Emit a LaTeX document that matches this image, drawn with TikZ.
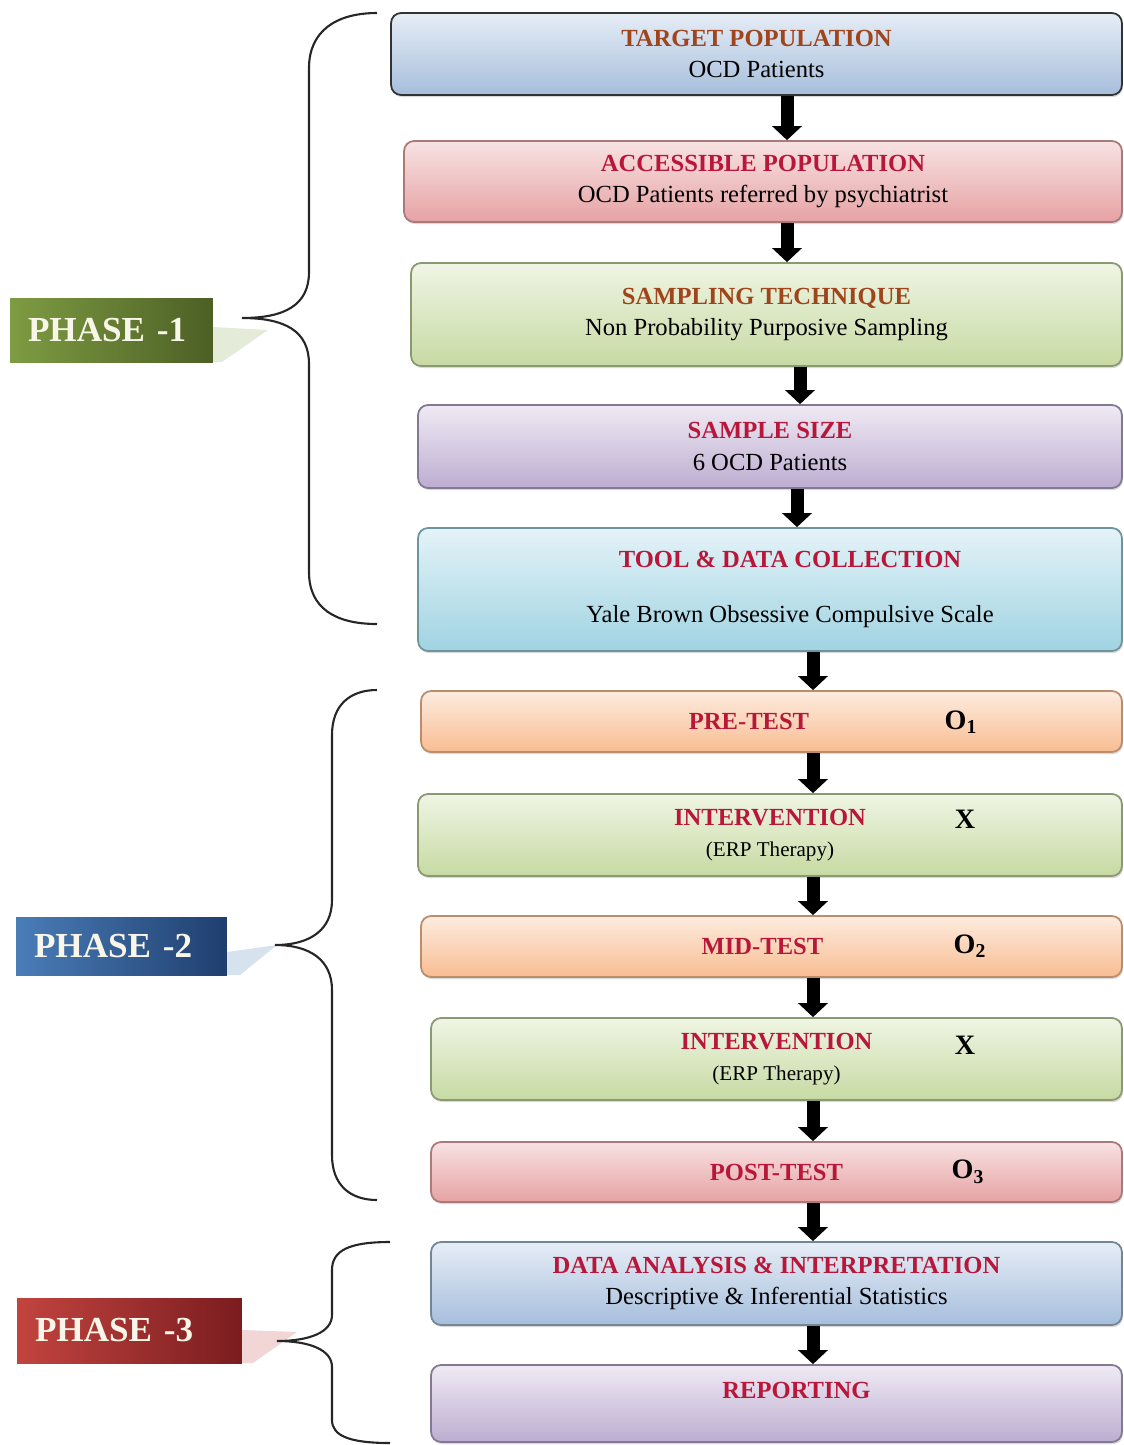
\documentclass[tikz,border=0pt]{standalone}
\usepackage{fontspec}
\setmainfont{Liberation Serif}
\usepackage{xcolor}
\usepackage{tikz}
\usetikzlibrary{arrows.meta, positioning, calc, shadows}

\definecolor{blueA}{HTML}{E6EDF6}
\definecolor{blueB}{HTML}{A6BEDC}
\definecolor{redA}{HTML}{F8E2E2}
\definecolor{redB}{HTML}{E6A2A4}
\definecolor{greenA}{HTML}{EFF5E4}
\definecolor{greenB}{HTML}{C7DAA3}
\definecolor{purpleA}{HTML}{EFEAF4}
\definecolor{purpleB}{HTML}{BDADD1}
\definecolor{cyanA}{HTML}{E4F3F8}
\definecolor{cyanB}{HTML}{A0D3E2}
\definecolor{orangeA}{HTML}{FDECDF}
\definecolor{orangeB}{HTML}{F8BD92}
\definecolor{titlered}{HTML}{B8173A}
\definecolor{titlebrown}{HTML}{A0441C}
\definecolor{phasetext}{HTML}{F8F6E8}
\definecolor{ponegreenA}{HTML}{7E9C42}
\definecolor{ponegreenB}{HTML}{4C5F25}
\definecolor{ptwoblueA}{HTML}{4A7DB8}
\definecolor{ptwoblueB}{HTML}{1F3E6E}
\definecolor{pthreeredA}{HTML}{C2443F}
\definecolor{pthreeredB}{HTML}{7A1C1F}

\newcommand{\hdr}[1]{\textcolor{titlered}{\textbf{#1}}}
\newcommand{\hdrbrown}[1]{\textcolor{titlebrown}{\textbf{#1}}}

\begin{document}
\begin{tikzpicture}[
    x=0.02cm, y=-0.02cm,
    stage/.style={rectangle, rounded corners=0.2cm, align=center, line width=1pt, inner sep=2pt,
        font=\fontsize{14}{18}\selectfont, drop shadow={opacity=0.3, shadow xshift=0.6pt, shadow yshift=-1.2pt}},
    bluebox/.style={stage, top color=blueA, bottom color=blueB, draw=black!80},
    redbox/.style={stage, top color=redA, bottom color=redB, draw=redB!75!black},
    greenbox/.style={stage, top color=greenA, bottom color=greenB, draw=greenB!70!black},
    purplebox/.style={stage, top color=purpleA, bottom color=purpleB, draw=purpleB!70!black},
    cyanbox/.style={stage, top color=cyanA, bottom color=cyanB, draw=cyanB!70!black},
    orangebox/.style={stage, top color=orangeA, bottom color=orangeB, draw=orangeB!75!black},
    phase/.style={rectangle, align=left, inner xsep=0.36cm, text=phasetext, font=\fontsize{20}{24}\selectfont\bfseries},
    obs/.style={font=\fontsize{16}{18}\selectfont\bfseries},
    brace/.style={line width=1.2pt, black!85},
    arrow/.style={-{Triangle[width=0.58cm, length=0.28cm]}, line width=7.4pt}
]
\useasboundingbox (0,0) rectangle (1124,1445);

% phase 1
\node[bluebox, minimum width=14.62cm, minimum height=1.64cm] (target) at (756.5,54)
    {\hdrbrown{TARGET POPULATION}\\OCD Patients};
\node[redbox, minimum width=14.36cm, minimum height=1.62cm] (access) at (763,181.5)
    {\hdr{ACCESSIBLE POPULATION}\\OCD Patients referred by psychiatrist};
\node[greenbox, minimum width=14.22cm, minimum height=2.06cm] (sampling) at (766.5,314.5)
    {\hdrbrown{SAMPLING TECHNIQUE}\\Non Probability Purposive Sampling};
\node[purplebox, minimum width=14.08cm, minimum height=1.66cm] (size) at (770,446.5)
    {\hdr{SAMPLE SIZE}\\6 OCD Patients};
\node[cyanbox, minimum width=14.08cm, minimum height=2.46cm] (tool) at (770,589.5)
    {\hspace*{0.8cm}\hdr{TOOL \& DATA COLLECTION}\\[13pt]\hspace*{0.8cm}Yale Brown Obsessive Compulsive Scale};

% phase 2
\node[orangebox, minimum width=14.02cm, minimum height=1.22cm] (pre) at (771.5,721.5) {\hdr{PRE-TEST}\hspace*{0.9cm}};
\node[greenbox, minimum width=14.08cm, minimum height=1.64cm] (int1) at (770,835)
    {\hdr{INTERVENTION}\\{\fontsize{12}{14}\selectfont (ERP Therapy)}};
\node[orangebox, minimum width=14.02cm, minimum height=1.22cm] (mid) at (771.5,946.5) {\hdr{MID-TEST}\hspace*{0.36cm}};
\node[greenbox, minimum width=13.82cm, minimum height=1.64cm] (int2) at (776.5,1059)
    {\hdr{INTERVENTION}\\{\fontsize{12}{14}\selectfont (ERP Therapy)}};
\node[redbox, minimum width=13.82cm, minimum height=1.2cm] (post) at (776.5,1172) {\hdr{POST-TEST}};

% phase 3
\node[bluebox, draw=blueB!70!black, minimum width=13.82cm, minimum height=1.66cm] (analysis) at (776.5,1283.5)
    {\hdr{DATA ANALYSIS \& INTERPRETATION}\\Descriptive \& Inferential Statistics};
\node[purplebox, minimum width=13.82cm, minimum height=1.54cm] (report) at (776.5,1403.5) {\hspace*{0.8cm}\hdr{REPORTING}\\[-3pt]};

% observations
\node[obs] (o1) at (961,722) {O\textsubscript{1}};
\node[obs] (x1) at (965,819) {X};
\node[obs] (o2) at (970,946) {O\textsubscript{2}};
\node[obs] (x2) at (965,1045) {X};
\node[obs] (o3) at (968,1172) {O\textsubscript{3}};

% arrow lanes
\coordinate (laneA) at (787,0);
\coordinate (laneB) at (800,0);
\coordinate (laneC) at (797,0);
\coordinate (laneD) at (813,0);

\draw[arrow] (target.south -| laneA) -- (access.north -| laneA);
\draw[arrow] (access.south -| laneA) -- (sampling.north -| laneA);
\draw[arrow] (sampling.south -| laneB) -- (size.north -| laneB);
\draw[arrow] (size.south -| laneC) -- (tool.north -| laneC);
\draw[arrow] (tool.south -| laneD) -- (pre.north -| laneD);
\draw[arrow] (pre.south -| laneD) -- (int1.north -| laneD);
\draw[arrow] (int1.south -| laneD) -- (mid.north -| laneD);
\draw[arrow] (mid.south -| laneD) -- (int2.north -| laneD);
\draw[arrow] (int2.south -| laneD) -- (post.north -| laneD);
\draw[arrow] (post.south -| laneD) -- (analysis.north -| laneD);
\draw[arrow] (analysis.south -| laneD) -- (report.north -| laneD);

% phase labels with pale pointers
\fill[ponegreenA!20] (213,327) -- (268,330) -- (222,362) -- (213,362) -- cycle;
\fill[ptwoblueA!22] (227,952) -- (277,945) -- (240,975) -- (227,975) -- cycle;
\fill[pthreeredA!22] (242,1330) -- (297,1332) -- (253,1363) -- (242,1363) -- cycle;

\node[phase, left color=ponegreenA, right color=ponegreenB, text width=3.34cm, minimum height=1.28cm] (phase1) at (111.5,330) {PHASE -1};
\node[phase, left color=ptwoblueA, right color=ptwoblueB, text width=3.5cm, minimum height=1.16cm] (phase2) at (121.5,946) {PHASE -2};
\node[phase, left color=pthreeredA, right color=pthreeredB, text width=3.78cm, minimum height=1.3cm] (phase3) at (129.5,1330.5) {PHASE -3};

% braces
\draw[brace] (377,13) .. controls (335,13) and (309,32) .. (309,68) -- (309,272)
    .. controls (309,305) and (285,318) .. (242,318)
    .. controls (285,318) and (309,331) .. (309,364) -- (309,572)
    .. controls (309,608) and (335,624) .. (377,624);
\draw[brace] (377,690) .. controls (350,690) and (332,705) .. (332,735) -- (332,900)
    .. controls (332,930) and (310,945) .. (275,945)
    .. controls (310,945) and (332,960) .. (332,990) -- (332,1155)
    .. controls (332,1185) and (350,1200) .. (377,1200);
\draw[brace] (390,1242) .. controls (350,1242) and (332,1250) .. (332,1270) -- (332,1315)
    .. controls (332,1332) and (310,1341) .. (277,1341)
    .. controls (310,1341) and (332,1350) .. (332,1367) -- (332,1420)
    .. controls (332,1436) and (350,1443) .. (390,1443);

\end{tikzpicture}
\end{document}
